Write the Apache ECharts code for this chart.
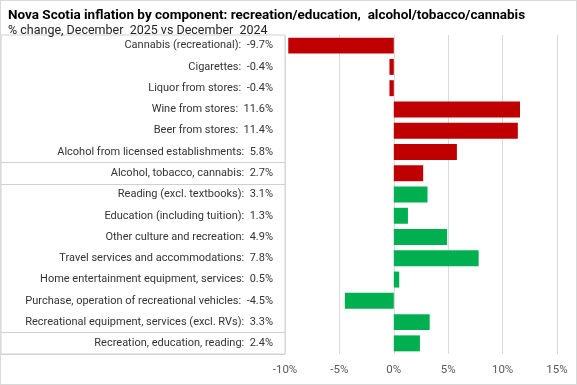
<!DOCTYPE html>
<html>
<head>
<meta charset="utf-8">
<script src="https://cdn.jsdelivr.net/npm/echarts@6/dist/echarts.min.js"></script>
<style>
html,body{margin:0;padding:0;background:#fff;}
#c{width:577px;height:385px;box-sizing:border-box;border:1px solid #d9d9d9;}
</style>
</head>
<body>
<div id="c"></div>
<script>
const categories = [
  'Cannabis (recreational)', 'Cigarettes', 'Liquor from stores', 'Wine from stores',
  'Beer from stores', 'Alcohol from licensed establishments', 'Alcohol, tobacco, cannabis',
  'Reading (excl. textbooks)', 'Education (including tuition)', 'Other culture and recreation',
  'Travel services and accommodations', 'Home entertainment equipment, services',
  'Purchase, operation of recreational vehicles', 'Recreational equipment, services (excl. RVs)',
  'Recreation, education, reading'
];
const values = [-9.7, -0.4, -0.4, 11.6, 11.4, 5.8, 2.7, 3.1, 1.3, 4.9, 7.8, 0.5, -4.5, 3.3, 2.4];
const groups = ['alc','alc','alc','alc','alc','alc','alc','rec','rec','rec','rec','rec','rec','rec','rec'];
const xTicks = [-10, -5, 0, 5, 10, 15];
const separatorsBefore = [6, 7, 14];

const groupColor = { alc: '#C00000', rec: '#00B050' };
const FONT = '"Roboto", sans-serif';
const labels = categories.map((c, i) => c + ':  ' + values[i].toFixed(1) + '%');

const chart = echarts.init(document.getElementById('c'));
chart.setOption({
  animation: false,
  title: [
    { text: 'Nova Scotia inflation by component: recreation/education,  alcohol/tobacco/cannabis',
      left: 2, top: 3, textStyle: { fontFamily: FONT, fontSize: 13.5, fontWeight: 'bold', color: '#000' } },
    { text: '% change, December  2025 vs December  2024',
      left: 2, top: 18, textStyle: { fontFamily: FONT, fontSize: 12.5, fontWeight: 'normal', color: '#222' } }
  ],
  grid: [
    { left: 284, right: 19, top: 34, bottom: 30, containLabel: false },
    { left: 0, width: 284, top: 34, bottom: 30, show: true, borderColor: '#d0d0d0', borderWidth: 1, containLabel: false }
  ],
  xAxis: [
    { type: 'value', gridIndex: 0, min: xTicks[0], max: xTicks[xTicks.length - 1], interval: 5,
      axisLine: { show: false }, axisTick: { show: false },
      splitLine: { lineStyle: { color: '#d9d9d9' } },
      axisLabel: { formatter: v => v + '%', color: '#595959', fontFamily: FONT, fontSize: 11.5, margin: 10 } },
    { type: 'value', gridIndex: 1, min: 0, max: 1, show: false }
  ],
  yAxis: [
    { type: 'category', gridIndex: 0, data: labels, inverse: true,
      axisLine: { show: false }, axisTick: { show: false },
      axisLabel: { margin: 12, color: '#333', fontFamily: FONT, fontSize: 11, interval: 0 } },
    { type: 'category', gridIndex: 1, data: labels, inverse: true,
      axisLine: { show: false }, axisTick: { show: false }, axisLabel: { show: false },
      splitLine: { show: true, interval: (i) => separatorsBefore.indexOf(i) >= 0, lineStyle: { color: '#d0d0d0' } } }
  ],
  series: [{
    type: 'bar', xAxisIndex: 0, yAxisIndex: 0,
    barCategoryGap: '25%',
    data: values.map((v, i) => ({ value: v, itemStyle: { color: groupColor[groups[i]] } }))
  }]
});
</script>
</body>
</html>
